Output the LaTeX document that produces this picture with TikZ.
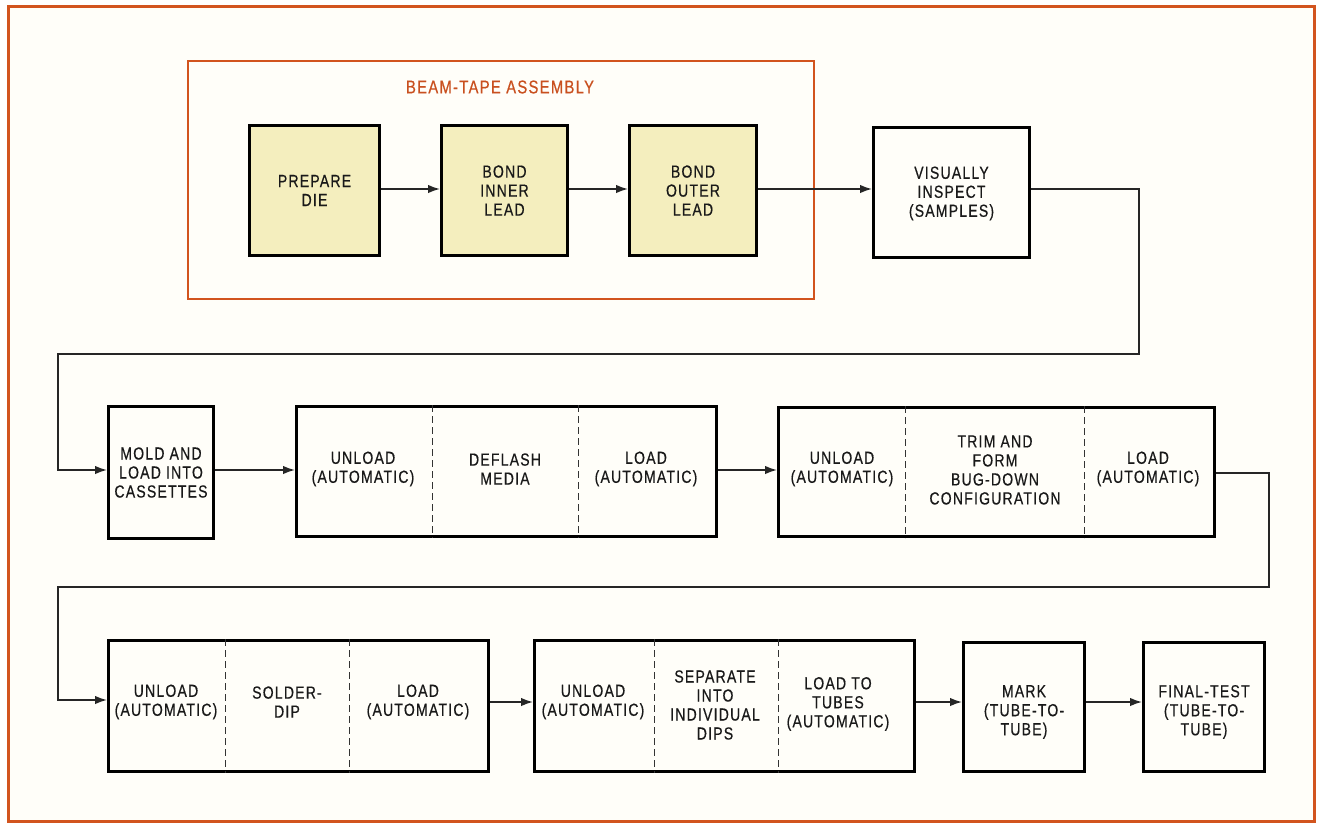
\documentclass[tikz,border=0pt]{standalone}
\usepackage{fontspec}
\setmainfont{Liberation Sans}[FakeStretch=0.8,LetterSpace=7,FakeBold=0.5]
\usetikzlibrary{arrows.meta}
\definecolor{frameor}{HTML}{D2541E}
\definecolor{titleor}{HTML}{C9501F}
\definecolor{boxyel}{HTML}{F4EEBE}
\definecolor{paper}{HTML}{FFFEF9}
\begin{document}
\begin{tikzpicture}[x=1pt,y=-1pt,
  txt/.style={font=\fontsize{17.5}{19}\selectfont,align=center,inner sep=0pt,text=black!90},
  procbox/.style={draw=black,line width=3pt,inner sep=0pt,anchor=north west},
  yelbox/.style={procbox,fill=boxyel},
  divider/.style={draw=black!80,line width=0.9pt,dash pattern=on 7pt off 4pt},
  conn/.style={draw=black!85,line width=1.6pt},
  arr/.style={conn,-{Latex[length=12pt,width=8.5pt]}}]
\useasboundingbox (0,0) rectangle (1319,823);
\fill[white] (0,0) rectangle (1319,823);
\node[draw=frameor,line width=3.2pt,fill=paper,inner sep=0pt,minimum width=1306pt,minimum height=815pt,anchor=north west] (frame) at (7,5) {};

% beam-tape assembly group
\node[draw=frameor,line width=2.4pt,inner sep=0pt,minimum width=626pt,minimum height=238pt,anchor=north west] (beam) at (187,60) {};
\node[txt,text=titleor,font=\fontsize{18.5}{20}\selectfont] (beamtitle) at (500,87) {BEAM-TAPE ASSEMBLY};

\node[yelbox,minimum width=130pt,minimum height=130pt] (prep) at (248,124) {};
\node[txt] (prept) at (prep.center) {PREPARE\\DIE};
\node[yelbox,minimum width=126pt,minimum height=130pt] (inner) at (440,124) {};
\node[txt] (innert) at (inner.center) {BOND\\INNER\\LEAD};
\node[yelbox,minimum width=127pt,minimum height=130pt] (outer) at (628,124) {};
\node[txt] (outert) at (outer.center) {BOND\\OUTER\\LEAD};

\node[procbox,minimum width=156pt,minimum height=130pt] (vis) at (872,126) {};
\node[txt] (vist) at ([yshift=-1pt]vis.center) {VISUALLY\\INSPECT\\(SAMPLES)};

% row 2
\node[procbox,minimum width=105pt,minimum height=132pt] (mold) at (107,405) {};
\node[txt] (moldt) at (mold.center) {MOLD AND\\LOAD INTO\\CASSETTES};

\node[procbox,minimum width=420pt,minimum height=130pt] (ca) at (295,405) {};
\coordinate (ca1) at (432,0); \coordinate (ca2) at (578,0);
\draw[divider] (ca1 |- ca.north) -- (ca1 |- ca.south);
\draw[divider] (ca2 |- ca.north) -- (ca2 |- ca.south);
\node[txt] (caa) at (363,469) {UNLOAD\\(AUTOMATIC)};
\node[txt] (cab) at (505,469) {DEFLASH\\MEDIA};
\node[txt] (cac) at (646,469) {LOAD\\(AUTOMATIC)};

\node[procbox,minimum width=436pt,minimum height=129pt] (cb) at (777,406) {};
\coordinate (cb1) at (905,0); \coordinate (cb2) at (1084,0);
\draw[divider] (cb1 |- cb.north) -- (cb1 |- cb.south);
\draw[divider] (cb2 |- cb.north) -- (cb2 |- cb.south);
\node[txt] (cba) at (842,469) {UNLOAD\\(AUTOMATIC)};
\node[txt] (cbb) at (995,470) {TRIM AND\\FORM\\BUG-DOWN\\CONFIGURATION};
\node[txt] (cbc) at (1148,469) {LOAD\\(AUTOMATIC)};

% row 3
\node[procbox,minimum width=380pt,minimum height=131pt] (cc) at (107,639) {};
\coordinate (cc1) at (225,0); \coordinate (cc2) at (349,0);
\draw[divider] (cc1 |- cc.north) -- (cc1 |- cc.south);
\draw[divider] (cc2 |- cc.north) -- (cc2 |- cc.south);
\node[txt] (cca) at (166,702) {UNLOAD\\(AUTOMATIC)};
\node[txt] (ccb) at (287,702) {SOLDER-\\DIP};
\node[txt] (ccc) at (418,702) {LOAD\\(AUTOMATIC)};

\node[procbox,minimum width=380pt,minimum height=131pt] (cd) at (533,639) {};
\coordinate (cd1) at (654,0); \coordinate (cd2) at (778,0);
\draw[divider] (cd1 |- cd.north) -- (cd1 |- cd.south);
\draw[divider] (cd2 |- cd.north) -- (cd2 |- cd.south);
\node[txt] (cda) at (593,702) {UNLOAD\\(AUTOMATIC)};
\node[txt] (cdb) at (715,705) {SEPARATE\\INTO\\INDIVIDUAL\\DIPS};
\node[txt] (cdc) at (838,704) {LOAD TO\\TUBES\\(AUTOMATIC)};

\node[procbox,minimum width=121pt,minimum height=129pt] (mark) at (962,641) {};
\node[txt] (markt) at ([yshift=-5pt]mark.center) {MARK\\(TUBE-TO-\\TUBE)};
\node[procbox,minimum width=121pt,minimum height=129pt] (fin) at (1142,641) {};
\node[txt] (fint) at ([yshift=-5pt]fin.center) {FINAL-TEST\\(TUBE-TO-\\TUBE)};

% connectors
\coordinate (r1) at (0,189);
\coordinate (r2) at (0,470);
\coordinate (r2b) at (0,473);
\coordinate (r3) at (0,702);
\draw[arr] (prep.east |- r1) -- (inner.west |- r1);
\draw[arr] (inner.east |- r1) -- (outer.west |- r1);
\draw[arr] (outer.east |- r1) -- (vis.west |- r1);
\draw[arr] (vis.east |- r1) -| (1139,354) -- (58,354) |- (mold.west |- r2);
\draw[arr] (mold.east |- r2) -- (ca.west |- r2);
\draw[arr] (ca.east |- r2) -- (cb.west |- r2);
\draw[arr] (cb.east |- r2b) -| (1269,587) -- (58,587) |- (cc.west |- 0,700);
\draw[arr] (cc.east |- r3) -- (cd.west |- r3);
\draw[arr] (cd.east |- r3) -- (mark.west |- r3);
\draw[arr] (mark.east |- r3) -- (fin.west |- r3);
\end{tikzpicture}
\end{document}
